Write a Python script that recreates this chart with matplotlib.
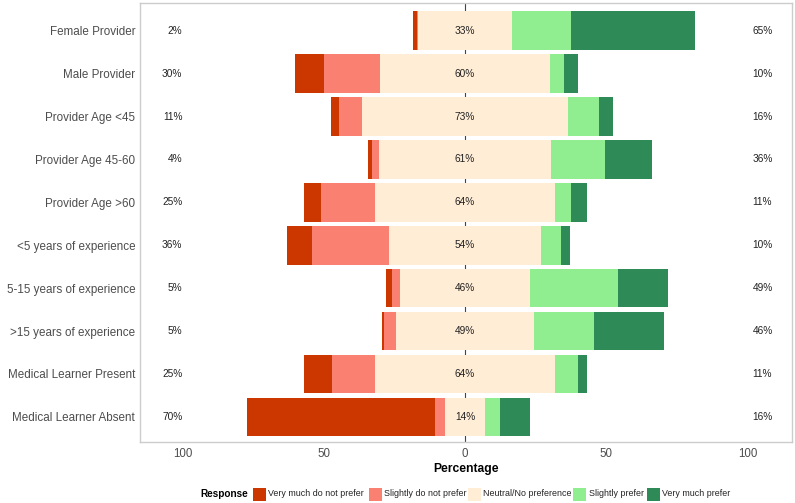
import matplotlib
matplotlib.use("Agg")
import matplotlib.pyplot as plt
from matplotlib.patches import Rectangle

plt.rcParams['font.family'] = ['Liberation Sans', 'DejaVu Sans']

categories = ["Female Provider", "Male Provider", "Provider Age <45", "Provider Age 45-60",
              "Provider Age >60", "<5 years of experience", "5-15 years of experience",
              ">15 years of experience", "Medical Learner Present", "Medical Learner Absent"]
responses = ["Very much do not prefer", "Slightly do not prefer", "Neutral/No preference",
             "Slightly prefer", "Very much prefer"]
very_not = [1.4, 10, 3, 1.6, 6, 9, 2.3, 1, 10, 66.5]
slightly_not = [0.6, 20, 8, 2.4, 19, 27, 2.7, 4, 15, 3.5]
neutral = [33, 60, 73, 61, 64, 54, 46, 49, 64, 14]
slightly_pref = [21, 5, 11, 19.2, 5.5, 7, 31, 21, 8, 5.5]
very_pref = [44, 5, 5, 16.6, 5.5, 3, 18, 25, 3, 10.5]
x_ticks = [-100, -50, 0, 50, 100]
x_ticklabels = ["100", "50", "0", "50", "100"]

colors = ["#CC3700", "#FA8072", "#FFEDD6", "#90EE90", "#2E8B57"]

W, H = 795, 503
fig = plt.figure(figsize=(W / 100, H / 100), dpi=100)
ax = fig.add_axes([140 / W, (H - 441.7) / H, (791.7 - 140) / W, (441.7 - 3.3) / H])

y = list(range(len(categories)))
h = 0.9
ax.axvline(0, color="#444444", lw=0.8, zorder=1)

for i in y:
    n2 = neutral[i] / 2
    ax.barh(i, -slightly_not[i], left=-n2, height=h, color=colors[1], zorder=2, lw=0)
    ax.barh(i, -very_not[i], left=-n2 - slightly_not[i], height=h, color=colors[0], zorder=2, lw=0)
    ax.barh(i, -n2, left=0, height=h, color=colors[2], zorder=2, lw=0)
    ax.barh(i, n2, left=0, height=h, color=colors[2], zorder=2, lw=0)
    ax.barh(i, slightly_pref[i], left=n2, height=h, color=colors[3], zorder=2, lw=0)
    ax.barh(i, very_pref[i], left=n2 + slightly_pref[i], height=h, color=colors[4], zorder=2, lw=0)
    neg = very_not[i] + slightly_not[i]
    pos = slightly_pref[i] + very_pref[i]
    ax.text(-100, i, f"{round(neg)}%", ha="right", va="center", fontsize=7.3, color="#222222", zorder=3)
    ax.text(0, i, f"{round(neutral[i])}%", ha="center", va="center", fontsize=7.3, color="#222222", zorder=3)
    ax.text(101.8, i, f"{round(pos)}%", ha="left", va="center", fontsize=7.3, color="#222222", zorder=3)

ax.set_xlim(-115, 115.6)
ax.set_ylim(len(categories) - 1 + 0.58, -0.64)
ax.set_yticks(y)
ax.set_yticklabels(categories, fontsize=8.4, color="#4D4D4D")
ax.set_xticks(x_ticks)
ax.set_xticklabels(x_ticklabels, fontsize=8.3, color="#4D4D4D")
ax.tick_params(axis="y", length=0, pad=3.5)
ax.tick_params(axis="x", length=0, pad=4.5)
ax.set_xlabel("Percentage", fontsize=8.7, fontweight="bold", labelpad=2)
for s in ax.spines.values():
    s.set_color("#CCCCCC")
    s.set_linewidth(1.0)

# legend drawn manually in pixel positions
ly = 494
fig.text(200 / W, (H - ly) / H, "Response", fontsize=7.2, fontweight="bold", va="center", ha="left")
key_x = [252.7, 368.5, 467.7, 573.3, 646.7]
for kx, c, lab in zip(key_x, colors, responses):
    fig.patches.append(Rectangle((kx / W, (H - ly - 6.5) / H), 13 / W, 13 / H,
                                 transform=fig.transFigure, facecolor=c, edgecolor="none"))
    fig.text((kx + 15.5) / W, (H - ly) / H, lab, fontsize=6.4, va="center", ha="left", color="#222222")

fig.savefig("out.png", dpi=100)
